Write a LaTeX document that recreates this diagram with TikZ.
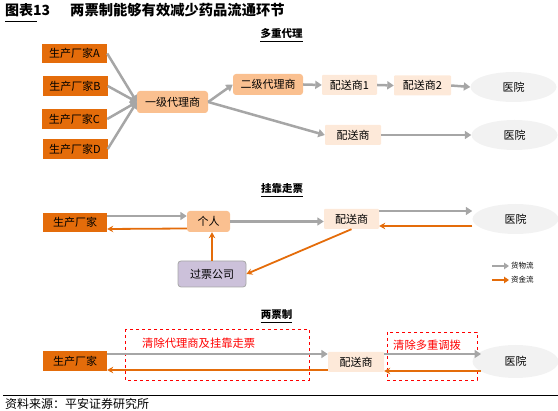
\documentclass[tikz,border=0pt]{standalone}
\usepackage{fontspec}
\setmainfont{Noto Sans CJK SC}
\newfontfamily\slfont[AutoFakeSlant=0.2]{Noto Sans CJK SC}
\usetikzlibrary{shapes.geometric,arrows.meta}
\definecolor{dkor}{HTML}{E46C0A}
\definecolor{ltor}{HTML}{FAC090}
\definecolor{pale}{HTML}{FDE9D9}
\definecolor{hosp}{HTML}{F2F2F2}
\definecolor{agray}{HTML}{A6A6A6}
\definecolor{aor}{HTML}{E46C0A}
\definecolor{lav}{HTML}{CCC1DA}
\definecolor{redd}{HTML}{FF0000}
\begin{document}
\begin{tikzpicture}[x=1pt,y=-1pt,
  nf/.style={font=\fontsize{11}{13}\selectfont, inner sep=0pt, text=black},
  dkbox/.style={nf, fill=dkor, minimum width=65pt, minimum height=19.5pt},
  ltbox/.style={nf, fill=ltor, rounded corners=3pt, minimum height=21pt},
  palebox/.style={nf, fill=pale, rounded corners=1pt, minimum height=20pt},
  hospital/.style={nf, ellipse, fill=hosp, minimum width=86pt, minimum height=30pt},
  garrow/.style={draw=agray, line width=2.5pt, -{Triangle[length=6.5pt,width=8pt]}},
  oarrow/.style={draw=aor, line width=1.8pt, -{Stealth[length=6pt,width=6.5pt]}},
  hdr/.style={font=\fontsize{10.5}{12}\selectfont\bfseries, inner sep=0pt},
  redbox/.style={draw=redd, dashed, line width=0.7pt},
  redtxt/.style={font=\fontsize{11.3}{13}\selectfont, text=redd, inner sep=0pt, anchor=west},
  legtxt/.style={font=\fontsize{7.5}{9}\selectfont, inner sep=0pt, anchor=west}
]
\useasboundingbox (0,0) rectangle (558,411);

% title
\node[anchor=west, inner sep=0pt, font=\fontsize{14}{16}\selectfont\bfseries] (t1) at (5,10) {图表13};
\node[anchor=west, inner sep=0pt, font=\fontsize{14.3}{16}\selectfont\bfseries] (t2) at (70,10) {两票制能够有效减少药品流通环节};
\draw[line width=0.8pt] (5,21) -- (37,21);

% ---------- section 1 ----------
\node[hdr] (h1) at (281.5,34) {多重代理};
\draw[line width=0.6pt] ([yshift=-2pt]h1.south west) -- ([yshift=-2pt]h1.south east);

\node[dkbox] (A) at (74.5,53.5) {生产厂家A};
\node[dkbox] (B) at (75,86) {生产厂家B};
\node[dkbox] (C) at (74.5,119) {生产厂家C};
\node[dkbox] (D) at (75,149) {生产厂家D};
\node[ltbox, minimum width=71pt, minimum height=22pt] (yj) at (172.5,102) {一级代理商};
\node[ltbox, minimum width=70pt] (ej) at (268,84.5) {二级代理商};
\node[palebox, minimum width=55pt] (p1) at (349.5,85) {配送商1};
\node[palebox, minimum width=57pt] (p2) at (422.5,85.5) {配送商2};
\node[hospital] (y1) at (513.5,87) {医院};
\node[palebox, minimum width=56pt] (p3) at (353,135) {配送商};
\node[hospital] (y2) at (514.5,135) {医院};

\foreach \n in {A,B,C,D} \draw[garrow] (\n.east) -- (yj.west);
\draw[garrow] (yj.east) -- (ej.west);
\draw[garrow] (yj.east) -- (p3.west);
\draw[garrow] (ej.east) -- (p1.west);
\draw[garrow] (p1.east) -- (p2.west);
\draw[garrow] (p2.east) -- (y1.west);
\draw[garrow] (p3.east) -- (y2.west);

% ---------- section 2 ----------
\node[hdr] (h2) at (282,189) {挂靠走票};
\draw[line width=0.6pt] ([yshift=-2pt]h2.south west) -- ([yshift=-2pt]h2.south east);

\node[dkbox, minimum width=64pt] (f2) at (75,222.5) {生产厂家};
\node[ltbox, minimum width=43pt] (gr) at (208.5,221.5) {个人};
\node[nf, fill=lav, draw=agray, line width=0.8pt, rounded corners=3pt, minimum width=68pt, minimum height=26pt] (gp) at (212,274) {过票公司};
\node[palebox, minimum width=55pt] (s2) at (351.5,219) {配送商};
\node[hospital] (y3) at (515.5,219) {医院};

\draw[garrow] ([yshift=6.5pt]f2.east) -- ([yshift=6.5pt]f2.east -| gr.west);
\draw[oarrow] ([yshift=-7pt]gr.west) -- ([yshift=-6.5pt]f2.east);
\draw[garrow] (gr.east) -- (gr.east -| s2.west);
\draw[garrow] ([yshift=8pt]s2.east) -- ([yshift=8pt]s2.east -| y3.west);
\draw[oarrow] ([yshift=-7pt]y3.west) -- ([yshift=-7pt]y3.west -| s2.east);
\draw[oarrow] (s2.south) -- (gp.east);
\draw[oarrow] (gp.north) -- (gp.north |- gr.south);

% legend
\coordinate (lg1a) at (492,266);
\coordinate (lg1b) at (509,266);
\coordinate (lg2a) at (492,280);
\coordinate (lg2b) at (509,280);
\draw[draw=agray, line width=2.2pt, -{Triangle[length=5pt,width=6.5pt]}] (lg1a) -- (lg1b);
\draw[draw=aor, line width=2pt, -{Triangle[length=5pt,width=6.5pt]}] (lg2a) -- (lg2b);
\node[legtxt] (l1) at (511,266) {货物流};
\node[legtxt] (l2) at (511,280) {资金流};

% ---------- section 3 ----------
\node[hdr] (h3) at (276.5,315) {两票制};
\draw[line width=0.6pt] ([yshift=-2pt]h3.south west) -- ([yshift=-2pt]h3.south east);

\draw[redbox] (125,329) rectangle (309,380);
\draw[redbox] (387,332) rectangle (477,380);
\node[redtxt] (r1) at (142,343) {清除代理商及挂靠走票};
\node[redtxt] (r2) at (393,345) {清除多重调拨};

\node[dkbox, minimum width=64pt, minimum height=20pt] (f3) at (75,361) {生产厂家};
\node[palebox, minimum width=56pt] (s3) at (356,362) {配送商};
\node[hospital, minimum height=33pt] (y4) at (515.5,361.5) {医院};

\draw[garrow] ([yshift=7pt]f3.east) -- ([yshift=7pt]f3.east -| s3.west);
\draw[oarrow] ([yshift=-8pt]s3.west) -- ([yshift=-8pt]s3.west -| f3.east);
\coordinate (e1) at (481,354);
\coordinate (e2) at (481,371);
\draw[garrow] (s3.east |- e1) -- (e1);
\draw[oarrow] (e2) -- (e2 -| s3.east);

% footer
\draw[line width=0.8pt] (3,395) -- (558,395);
\node[anchor=west, inner sep=0pt, font=\fontsize{12}{14}\selectfont\slfont] (src) at (5,404) {资料来源：平安证券研究所};
\end{tikzpicture}
\end{document}
